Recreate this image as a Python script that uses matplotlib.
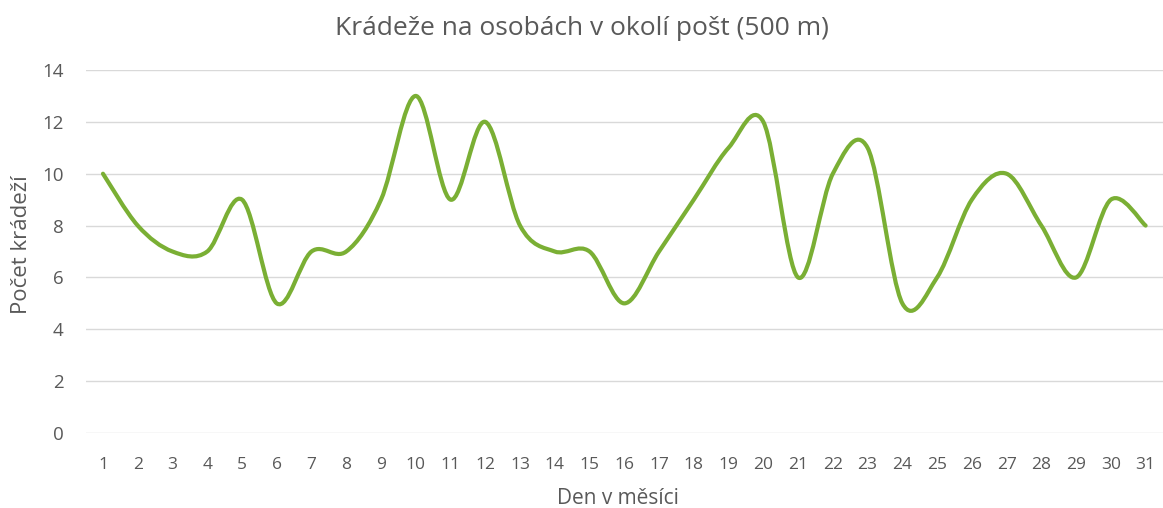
import numpy as np
from matplotlib import pyplot as plt
from matplotlib.path import Path
from matplotlib.patches import PathPatch

days = list(range(1, 32))
thefts = [10, 8, 7, 7, 9, 5, 7, 7, 9, 13, 9, 12, 8, 7, 7, 5,
          7, 9, 11, 12, 6, 10, 11, 5, 6, 9, 10, 8, 6, 9, 8]

title = "Krádeže na osobách v okolí pošt (500 m)"
xlabel = "Den v měsíci"
ylabel = "Počet krádeží"
yticks = [0, 2, 4, 6, 8, 10, 12, 14]


def smooth_path(xs, ys):
    # Excel-like smoothed line: Catmull-Rom converted to cubic Bezier
    p = np.column_stack([xs, ys]).astype(float)
    verts = [p[0]]
    codes = [Path.MOVETO]
    n = len(p)
    for i in range(n - 1):
        p0 = p[i - 1] if i > 0 else p[i]
        p1 = p[i]
        p2 = p[i + 1]
        p3 = p[i + 2] if i + 2 < n else p[i + 1]
        c1 = p1 + (p2 - p0) / 6
        c2 = p2 - (p3 - p1) / 6
        verts += [c1, c2, p2]
        codes += [Path.CURVE4] * 3
    return Path(verts, codes)


if __name__ == '__main__':
    plt.rcParams['font.family'] = ['Open Sans', 'DejaVu Sans']
    grey = "#595959"

    fig = plt.figure(figsize=(11.63, 5.08), dpi=100)
    ax = fig.add_axes([0.0736, 0.1476, 0.9264, 0.7146])

    patch = PathPatch(smooth_path(days, thefts), facecolor="none",
                      edgecolor="#7AAF34", lw=3.0, capstyle="round",
                      joinstyle="round", zorder=3)
    ax.add_patch(patch)

    ax.set_xlim(0.5, 31.5)
    ax.set_ylim(0, 14)
    ax.set_xticks(days)
    ax.set_yticks(yticks)
    ax.grid(axis="y", color="#D9D9D9", lw=1.0)
    ax.set_axisbelow(True)
    for s in ax.spines.values():
        s.set_visible(False)
    ax.tick_params(length=0, labelcolor=grey)
    ax.tick_params(axis="y", labelsize=13.5, pad=16)
    ax.tick_params(axis="x", labelsize=12.5, pad=17)

    fig.text(0.5, 1 - 35 / 508, title, fontsize=19, color=grey,
             ha="center", va="baseline")
    fig.text(0.531, 4 / 508, xlabel, fontsize=15, color=grey,
             ha="center", va="baseline")
    fig.text(22 / 1163, 1 - 245 / 508, ylabel, fontsize=16, color=grey,
             ha="center", va="center", rotation=90)

    fig.savefig("out.png", dpi=100)
